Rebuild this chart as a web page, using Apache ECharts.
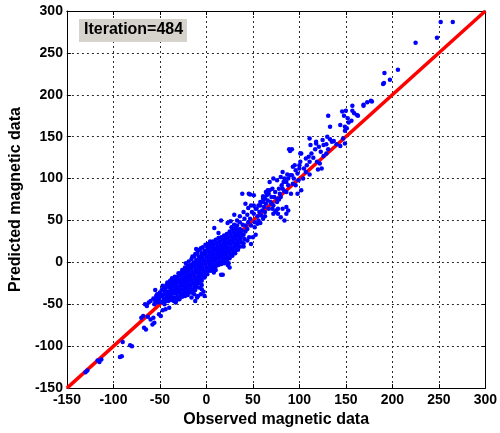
<!DOCTYPE html>
<html>
<head>
<meta charset="utf-8">
<script src="https://cdn.jsdelivr.net/npm/echarts@6/dist/echarts.min.js"></script>
<style>html,body{margin:0;padding:0;background:#fff}#c{width:500px;height:433px}</style>
</head>
<body>
<div id="c"></div>
<script>
// Axis ticks
const xTicks = [-150, -100, -50, 0, 50, 100, 150, 200, 250, 300];
const yTicks = [-150, -100, -50, 0, 50, 100, 150, 200, 250, 300];
const xTitle = 'Observed magnetic data';
const yTitle = 'Predicted magnetic data';
const annotation = 'Iteration=484';
// 1:1 reference line
const refLine = [[-150, -150], [300, 300]];

// [observed, predicted] pairs
const lowerTail = [
  [-130,-131],[-128,-129],[-117,-117],[-113,-116],[-115,-119],[-93,-113],[-91,-112],
  [-82,-99],[-80,-100],[-90,-95],[-67,-78],[-65,-80],[-58,-74],[-56,-72],[-70,-66],
  [-68,-64],[-63,-65],[-60,-68],[-57,-66],[-66,-50],[-62,-48],[-60,-46],[-64,-52],
  [-51,-62],[-49,-64],[-44,-56],[-40,-54],[-33,-48],[-54,-40],[-52,-45],[-50,-38],
  [-55,-33],[-45,-50],[-47,-57],[-16,-42],[-12,-46],[-9,-40],[-11,16],[7,-10],[10,-9],
  [17.6,-14.6],[19,-1],[24,-1],[23,-3],[25,-6],[8,-12],[-2,-40],[-5,-32],[-13,-38],
  [-10,-25],[15.8,-14.7],[-15,-36],[-12,-33],[-8,-30],[-5,-27],[-3,-35],[-6,-38],[-10,-42]
];

const core = [
  [-56,-50],[-55,-46],[-57,-43],[-54,-48],[-53,-44],[-52,-41],[-53,-38],
  [-50,-48],[-51,-44],[-49,-40],[-50,-36],[-48,-33],
  [-47,-47],[-46,-43],[-47,-39],[-45,-35],[-46,-31],[-47,-28],
  [-44,-46],[-43,-42],[-44,-38],[-42,-35],[-44,-31],[-43,-27],[-42,-24],
  [-41,-46],[-40,-42],[-41,-38],[-39,-34],[-40,-30],[-41,-26],[-39,-22],
  [-38,-45],[-37,-42],[-38,-38],[-36,-34],[-37,-30],[-38,-26],[-36,-22],[-37,-19],
  [-35,-46],[-34,-42],[-35,-37],[-33,-33],[-34,-29],[-35,-25],[-33,-21],[-34,-17],
  [-32,-45],[-31,-41],[-32,-37],[-30,-33],[-31,-29],[-32,-25],[-30,-21],[-31,-17],[-30,-13],
  [-29,-44],[-28,-40],[-29,-36],[-27,-32],[-28,-28],[-29,-24],[-27,-20],[-28,-16],[-27,-12],[-26,-9],
  [-26,-41],[-25,-37],[-26,-33],[-24,-29],[-25,-25],[-26,-21],[-24,-17],[-25,-13],[-24,-9],[-23,-6],
  [-23,-40],[-22,-36],[-23,-32],[-21,-28],[-22,-24],[-23,-20],[-21,-16],[-22,-12],[-21,-8],[-20,-4],[-22,-1],
  [-20,-39],[-19,-35],[-20,-31],[-18,-27],[-19,-23],[-20,-19],[-18,-15],[-19,-11],[-18,-7],[-17,-3],[-19,1],
  [-17,-36],[-16,-32],[-17,-28],[-15,-24],[-16,-20],[-17,-16],[-15,-12],[-16,-8],[-15,-4],[-14,0],[-16,4],[-15,7],
  [-14,-33],[-13,-29],[-14,-25],[-12,-21],[-13,-17],[-14,-13],[-12,-9],[-13,-5],[-12,-1],[-11,3],[-13,7],[-12,10],
  [-11,-29],[-10,-25],[-11,-21],[-9,-17],[-10,-13],[-11,-9],[-9,-5],[-10,-1],[-9,3],[-8,7],[-10,11],[-9,14],
  [-8,-25],[-7,-21],[-8,-17],[-6,-13],[-7,-9],[-8,-5],[-6,-1],[-7,3],[-6,7],[-5,11],[-7,15],[-6,17],
  [-5,-22],[-4,-18],[-5,-14],[-3,-10],[-4,-6],[-5,-2],[-3,2],[-4,6],[-3,10],[-2,14],[-4,18],
  [-2,-18],[-1,-14],[-2,-10],[0,-6],[-1,-2],[-2,2],[0,6],[-1,10],[0,14],[1,18],[-1,21],
  [1,-14],[2,-10],[1,-6],[3,-2],[2,2],[1,6],[3,10],[2,14],[3,18],[2,22],
  [4,-10],[5,-6],[4,-2],[6,2],[5,6],[4,10],[6,14],[5,18],[6,22],[4,25],
  [7,-7],[8,-3],[7,1],[9,5],[8,9],[7,13],[9,17],[8,21],[7,25],
  [10,-5],[11,-1],[10,3],[12,7],[11,11],[10,15],[12,19],[11,23],[10,27],
  [13,-3],[14,1],[13,5],[15,9],[14,13],[13,17],[15,21],[14,25],[13,29],
  [16,-2],[17,2],[16,6],[18,10],[17,14],[16,18],[18,22],[17,26],[16,30],
  [19,0],[20,4],[19,8],[21,12],[20,16],[19,20],[21,24],[20,28],[19,32],
  [22,2],[23,6],[22,10],[24,14],[23,18],[22,22],[24,26],[23,30],[22,34],
  [25,5],[26,9],[25,13],[27,17],[26,21],[25,25],[27,29],[26,33],[25,37],
  [28,8],[29,12],[28,16],[30,20],[29,24],[28,28],[30,32],[29,36],[28,40],
  [31,11],[32,15],[31,19],[33,23],[32,27],[31,31],[33,35],[32,39],
  [34,15],[35,19],[34,23],[36,27],[35,31],[34,35],[36,40],
  [37,19],[38,24],[37,29],[39,33],[38,38],
  [40,23],[41,28],[40,33],[42,37]
];

const band = [
  [15.8,50],[22.8,47],[26,49],[29.8,45],[31.6,41],[35,38],[37,35],[8.5,41],[13,35],
  [38.6,82],[45.6,82],[30,57],[44,57],[41,52],[36,48],
  [40,19],[44,26],[48,22],[50,30],[53,33],[46,30],
  [51,58],[53,64],[56,68],[58,72],[61,76],[49,60],[54,64],[58,68],[51,68],[61,72],[63,76],[65,80],
  [68,86],[70,78],[72,68],[74,84],[76,76],[79,82],[82,88],[86,84],[88,92],[91,82],[93,94],[98,82],
  [99,98],[102,86],[104,100],[95,116],[100,112],[107,108],[111,105],
  [68,96],[72,100],[76,98],[80,102],[84,100],[86,96],[65,84],[71,88],[66,86],
  [76,72],[80,78],[84,85],[78,75],
  [71,64],[74,60],[77,58],[80,54],[84,50],[86,58],[88,62],[82,64],[86,66],
  [56,50],[58,47],[61,52],[63,55],
  [47,81],[51,80],[61,79],[64,84],[67,82],
  [72,58],[75,62],[77,64],
  [40,60],[45,65],[48,68],[42,70],
  [82,108],[87,105],[92,104],[96,110],[100,116],[93,114],[101,120],[102,130],[107,124],[111,120],
  [90,133],[92,135],[89,135],[101,130],
  [111,148],[118,144],
  [115,125],[119,120],[122,118],[124,112],[120,111],[126,127],[129,130],[131,135],[123,132],
  [112,140],[118,142],[125,146],[130,150],[135,144],[140,141],[144,139],[147,148],[149,142],
  [129,141],[133,147],[137,145],
  [131,175],[133,162],[144,164],[149,162],[153,167],[156,169],[146,180],[148,175],[149,157],[151,160],
  [157,187],[157,181],[159,178],[162,176],[163,175],[150,181],[152,172],
  [169,187],[169,188],[173,191],[177,193],[178,192],
  [33,50],[36,55],[39,45],[42,44],[45,48],[47,52],[52,48],[55,55],[57,60],[60,62],
  [62,66],[64,70],[66,74],[69,72],[73,78],[78,88],[81,92],[83,96],[88,100],[90,104],
  [94,100],[96,92],[98,106],[105,112],[108,116],[110,126],[113,130],[117,135],[121,138],[126,140],
  [59,56],[63,60],[67,64],[70,70],[44,40],[48,44],[52,42],[55,46],[27,42],[33,44]
];

const upperTail = [
  [190,213],[191,214],[191.5,226],[197.4,218],[206,230],[225,262],[248,268],[252,287],[265,287]
];

const points = [].concat(lowerTail, core, band, upperTail);

const FONT = '"Liberation Sans", Arial, sans-serif';
const chart = echarts.init(document.getElementById('c'), null, {renderer: 'canvas'});

const gridLine = {show: true, lineStyle: {color: '#2a2a2a', width: 1, type: [2, 3]}};
const axisLineStyle = {show: true, onZero: false, lineStyle: {color: '#000', width: 1}};
const tickStyle = {show: true, inside: true, length: 4, lineStyle: {color: '#000'}};
const labelStyle = {color: '#000', fontFamily: FONT, fontWeight: 'bold', fontSize: 14};

chart.setOption({
  animation: false,
  backgroundColor: '#fff',
  grid: {left: 62.7, right: 10.7, top: 11, bottom: 41.3, containLabel: false},
  xAxis: [
    {type: 'value', min: xTicks[0], max: xTicks[xTicks.length - 1], interval: 50, position: 'bottom',
     axisLine: axisLineStyle, axisTick: tickStyle, splitLine: gridLine,
     axisLabel: Object.assign({margin: 5}, labelStyle),
     name: xTitle, nameLocation: 'middle', nameGap: 19,
     nameTextStyle: {color: '#000', fontFamily: FONT, fontWeight: 'bold', fontSize: 16}},
    {type: 'value', min: xTicks[0], max: xTicks[xTicks.length - 1], interval: 50, position: 'top',
     axisLine: axisLineStyle, axisTick: tickStyle, splitLine: {show: false}, axisLabel: {show: false}}
  ],
  yAxis: [
    {type: 'value', min: yTicks[0], max: yTicks[yTicks.length - 1], interval: 50, position: 'left',
     axisLine: axisLineStyle, axisTick: tickStyle, splitLine: gridLine,
     axisLabel: Object.assign({margin: 4}, labelStyle),
     name: yTitle, nameLocation: 'middle', nameGap: 37,
     nameTextStyle: {color: '#000', fontFamily: FONT, fontWeight: 'bold', fontSize: 16}},
    {type: 'value', min: yTicks[0], max: yTicks[yTicks.length - 1], interval: 50, position: 'right',
     axisLine: axisLineStyle, axisTick: tickStyle, splitLine: {show: false}, axisLabel: {show: false}}
  ],
  series: [
    {type: 'line', data: refLine, symbol: 'none', z: 2,
     lineStyle: {color: '#ff0000', width: 3.5}},
    {type: 'scatter', data: points, symbol: 'circle', symbolSize: 4.5, z: 3,
     itemStyle: {color: '#0000ff', opacity: 1}}
  ],
  graphic: [
    {type: 'rect', left: 79, top: 19, shape: {width: 108, height: 23},
     style: {fill: '#d6d3cc'}, z: 10},
    {type: 'text', left: 84, top: 22, z: 11,
     style: {text: annotation, fill: '#000', font: 'bold 16px ' + FONT}}
  ]
});
</script>
</body>
</html>
